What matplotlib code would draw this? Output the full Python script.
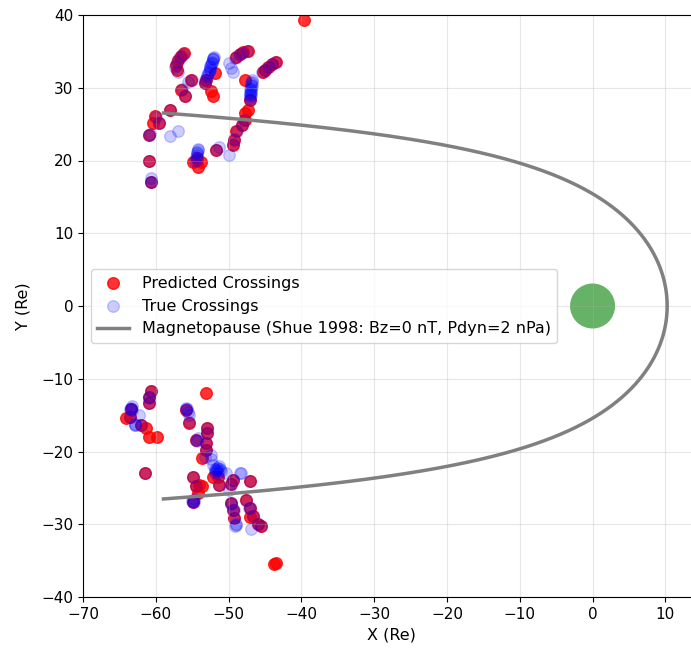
import matplotlib
matplotlib.use('Agg')
import matplotlib.pyplot as plt
import numpy as np

# Predicted crossings (X, Y in Re)
pred_x = [-39.6,
          -56.1, -56.5, -57.0, -57.2, -57.1,
          -53.1, -53.3, -51.9, -52.4, -52.2,
          -55.1, -56.5, -56.0,
          -49.0, -48.5, -48.0, -47.4,
          -45.3, -45.0, -44.6, -44.0, -43.5,
          -47.8, -47.1, -47.4, -47.7, -47.8, -48.1, -49.0, -49.2, -49.4,
          -51.7,
          -60.1, -58.1, -60.4, -59.5, -60.9,
          -60.9, -60.7,
          -54.9, -53.8, -54.2, -54.4,
          # southern side
          -60.7, -61.0, -61.0,
          -53.1,
          -63.4, -63.6, -64.1, -62.0,
          -61.3, -61.0, -59.8,
          -61.5,
          -55.8, -55.4,
          -52.9, -52.9, -54.5, -53.1, -53.1, -53.6,
          -52.2, -51.3, -49.4, -47.1, -51.5,
          -54.9, -54.5, -53.6, -54.0, -54.2, -54.9,
          -49.7,
          -49.7, -49.4, -49.2,
          -47.6, -47.1, -46.7, -46.0, -45.5, -47.1,
          -43.7, -43.5]
pred_y = [39.3,
          34.8, 34.4, 33.8, 33.1, 32.4,
          31.1, 30.6, 32.0, 29.5, 28.8,
          31.1, 29.7, 28.8,
          34.2, 34.6, 34.9, 35.1,
          32.2, 32.5, 32.9, 33.3, 33.6,
          31.1, 28.3, 26.9, 26.5, 25.6, 24.9, 24.0, 22.8, 22.1,
          21.4,
          26.1, 26.9, 25.1, 25.1, 23.5,
          19.9, 17.1,
          19.8, 19.8, 19.1, 20.3,
          -11.7, -12.5, -13.4,
          -12.0,
          -14.1, -15.2, -15.4, -16.4,
          -16.8, -18.0, -18.0,
          -22.9,
          -14.3, -16.1,
          -16.8, -17.5, -18.4, -18.9, -19.8, -20.9,
          -23.5, -24.6, -23.9, -24.1, -23.5,
          -23.5, -24.8, -24.8, -24.6, -25.7, -26.9,
          -24.4,
          -27.1, -28.0, -29.2,
          -26.7, -27.7, -28.9, -29.9, -30.3, -29.0,
          -35.4, -35.3]

# True crossings (X, Y in Re)
true_x = [-56.2, -56.7, -57.1, -57.3, -57.0,
          -52.1, -52.2, -52.3, -52.4, -52.5, -52.6, -52.7, -52.9, -53.0, -53.2, -53.3,
          -52.0, -52.2, -52.3, -52.5, -52.6, -52.8,
          -55.0, -55.6, -56.4, -56.0,
          -49.9, -49.6, -49.4,
          -49.1, -48.6, -48.1, -47.5,
          -45.4, -45.0, -44.5, -44.0, -43.6,
          -46.8, -46.9, -46.9, -46.9, -47.0, -46.9, -47.0, -47.1,
          -46.8, -46.9, -46.8, -47.0, -46.9, -47.0, -47.1,
          -47.9, -48.1, -48.9, -49.3, -49.4,
          -49.9, -51.3, -51.7,
          -60.0, -58.1, -59.5, -60.9, -60.8,
          -58.1, -57.0,
          -60.9, -60.7, -60.6, -60.7,
          -54.2, -54.3, -54.5, -54.4, -54.6, -54.2, -54.3, -54.4,
          # southern side
          -60.7, -61.0, -60.9, -61.0,
          -63.4, -63.5, -63.3, -63.6, -62.9, -62.8, -62.3, -62.0,
          -63.4, -63.2, -62.8,
          -61.5,
          -55.8, -55.7, -55.6, -55.4, -55.4, -55.8,
          -52.9, -52.9, -54.5, -54.4, -54.2, -53.1, -53.1,
          -53.3, -52.4, -52.4,
          -51.7, -51.6, -51.8, -51.5, -51.0, -50.3, -51.9, -51.3, -52.1,
          -51.6, -51.8, -51.2, -51.5,
          -51.3, -49.4, -48.5, -48.3,
          -54.9, -54.5, -54.9, -54.8, -55.0, -54.7, -54.9,
          -49.7, -49.9,
          -49.7, -49.6, -49.4, -49.3, -49.2, -49.0, -49.1, -49.0,
          -47.6, -47.1, -47.2, -46.7, -46.0, -45.5, -46.9,
          -47.1]
true_y = [34.6, 34.2, 33.5, 32.9, 32.2,
          34.1, 33.9, 33.6, 33.2, 32.9, 32.5, 32.2, 31.8, 31.5, 31.0, 30.6,
          34.2, 34.0, 33.4, 33.0, 32.6, 32.0,
          31.0, 30.8, 29.8, 28.9,
          33.4, 32.7, 32.2,
          34.1, 34.5, 34.8, 35.0,
          32.1, 32.5, 32.9, 33.3, 33.6,
          30.8, 30.4, 30.0, 29.7, 29.3, 29.0, 28.6, 28.3,
          31.0, 30.6, 30.2, 29.8, 29.4, 29.1, 28.8,
          25.6, 24.9, 24.1, 22.9, 22.2,
          20.8, 21.9, 21.4,
          26.0, 26.9, 25.1, 23.5, 23.6,
          23.3, 24.0,
          19.9, 17.1, 17.0, 17.6,
          21.4, 21.0, 20.5, 20.1, 19.9, 21.6, 21.2, 20.7,
          -11.7, -12.5, -12.6, -13.3,
          -14.1, -14.2, -13.8, -15.2, -16.4, -16.3, -15.0, -16.4,
          -14.0, -14.3, -16.2,
          -22.9,
          -14.1, -14.2, -14.6, -15.0, -16.0, -14.0,
          -16.8, -17.5, -18.4, -18.5, -18.2, -18.9, -19.8,
          -20.7, -20.5, -21.0,
          -22.5, -22.6, -22.4, -22.2, -22.7, -23.0, -23.0, -22.0, -21.8,
          -22.3, -22.7, -22.4, -23.0,
          -24.6, -23.9, -23.0, -22.9,
          -23.5, -24.8, -26.9, -27.0, -26.8, -26.5, -26.8,
          -24.4, -25.3,
          -27.1, -27.2, -28.0, -28.1, -29.2, -30.1, -30.2, -30.0,
          -26.7, -27.7, -27.8, -28.9, -29.9, -30.3, -30.6,
          -24.1]

# Shue et al. (1998) model parameters
BZ = 0.0     # nT
PDYN = 2.0   # nPa
X_CUT = -59.5

r0 = (10.22 + 1.29 * np.tanh(0.184 * (BZ + 8.14))) * PDYN ** (-1 / 6.6)
alpha = (0.58 - 0.007 * BZ) * (1 + 0.024 * np.log(PDYN))
theta = np.linspace(-np.pi * 0.95, np.pi * 0.95, 2000)
r = r0 * (2 / (1 + np.cos(theta))) ** alpha
mp_x = r * np.cos(theta)
mp_y = r * np.sin(theta)
keep = mp_x >= X_CUT

fig = plt.figure(figsize=(6.91, 6.48), dpi=100)
ax = fig.add_axes([83 / 691, 51 / 648, 617 / 691, 582 / 648])

ax.scatter(pred_x, pred_y, c='red', s=70, alpha=0.8,
           label='Predicted Crossings')
ax.scatter(true_x, true_y, c='blue', s=70, alpha=0.2,
           label='True Crossings')
ax.plot(mp_x[keep], mp_y[keep], color='gray', lw=2.5,
        label='Magnetopause (Shue 1998: Bz=0 nT, Pdyn=2 nPa)')
ax.scatter([0], [0], c='green', s=1050, alpha=0.6, edgecolors='none')

ax.set_xlim(-70, 14.76)
ax.set_ylim(-40, 40)
ax.set_xticks(np.arange(-70, 11, 10))
ax.set_xlabel('X (Re)', fontsize=11.5)
ax.set_ylabel('Y (Re)', fontsize=11.5, labelpad=8)
ax.tick_params(labelsize=11)
ax.grid(True, alpha=0.3)
ax.legend(loc='center left', fontsize=11.5)

fig.savefig('out.png', dpi=100)
